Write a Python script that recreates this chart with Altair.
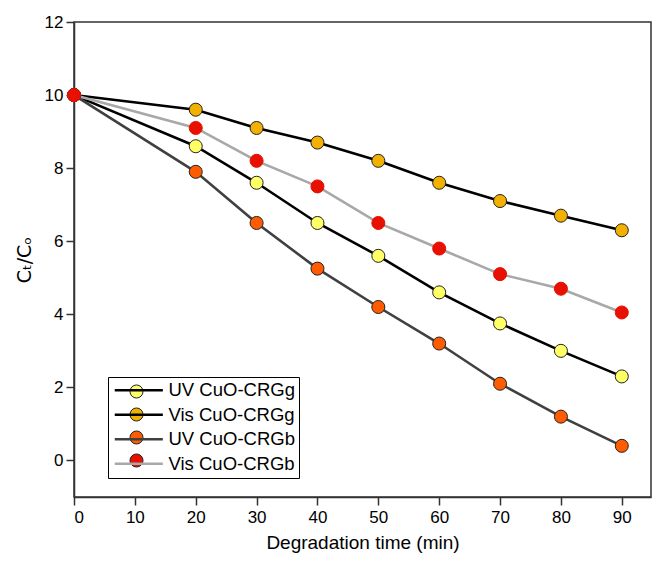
import altair as alt
import pandas as pd

times = [0, 20, 30, 40, 50, 60, 70, 80, 90]
series_names = ["UV CuO-CRGg", "Vis CuO-CRGg", "UV CuO-CRGb", "Vis CuO-CRGb"]
uv_g = [10, 8.6, 7.6, 6.5, 5.6, 4.6, 3.75, 3.0, 2.3]
vis_g = [10, 9.6, 9.1, 8.7, 8.2, 7.6, 7.1, 6.7, 6.3]
uv_b = [10, 7.9, 6.5, 5.25, 4.2, 3.2, 2.1, 1.2, 0.4]
vis_b = [10, 9.1, 8.2, 7.5, 6.5, 5.8, 5.1, 4.7, 4.05]

fill_colors = ["#FFFF66", "#F2B100", "#FF5C00", "#E81000"]
line_colors = ["#000000", "#000000", "#404040", "#A8A8A8"]

rows = []
for name, vals in zip(series_names, [uv_g, vis_g, uv_b, vis_b]):
    for t, v in zip(times, vals):
        rows.append({"time": t, "value": v, "series": name})
df = pd.DataFrame(rows)

FONT = "Liberation Sans"

x_enc = alt.X(
    "time:Q",
    scale=alt.Scale(domain=[0, 94.8], nice=False, zero=False),
    axis=alt.Axis(
        title="Degradation time (min)",
        values=list(range(0, 95, 5)),
        labelExpr="datum.value % 10 === 0 ? datum.label : ''",
        tickSize={"condition": {"test": "datum.value % 10 === 0", "value": 8}, "value": 5},
        grid=False,
        labelFontSize=17,
        titleFontSize=19,
        titlePadding=8,
        labelPadding=4,
    ),
)
y_enc = alt.Y(
    "value:Q",
    scale=alt.Scale(domain=[-1, 12], nice=False, zero=False),
    axis=alt.Axis(
        title="Cₜ/Cₒ",
        titleFont="DejaVu Sans",
        values=list(range(0, 13)),
        labelExpr="datum.value % 2 === 0 ? datum.label : ''",
        tickSize={"condition": {"test": "datum.value % 2 === 0", "value": 8}, "value": 5},
        grid=False,
        labelFontSize=17,
        titleFontSize=19,
        titlePadding=10,
        labelPadding=3,
    ),
)

# line symbol: path running from the symbol's left edge to the right (offset path)
LINE_PATH = "M-1,0H6.4"

lines = alt.Chart(df).mark_line(strokeWidth=2.6).encode(
    x=x_enc,
    y=y_enc,
    stroke=alt.Stroke(
        "series:N",
        scale=alt.Scale(domain=series_names, range=line_colors),
        legend=alt.Legend(
            title=None,
            orient="none",
            legendX=34,
            legendY=355,
            symbolType=LINE_PATH,
            symbolSize=169,
            symbolStrokeWidth=2.6,
            symbolFillColor="transparent",
            labelFontSize=18.5,
            labelFont=FONT,
            labelOffset=38,
            rowPadding=5.5,
            padding=4,
            strokeColor="#000000",
            labelLimit=300,
        ),
    ),
    detail="series:N",
)

points = alt.Chart(df).mark_point(filled=True, size=170, shape="circle", opacity=1, strokeWidth=1).encode(
    x="time:Q",
    y="value:Q",
    fill=alt.Fill(
        "series:N",
        scale=alt.Scale(domain=series_names, range=fill_colors),
        legend=alt.Legend(
            title=None,
            orient="none",
            legendX=55,
            legendY=362,
            symbolType="circle",
            symbolSize=170,
            symbolStrokeColor="#222222",
            symbolStrokeWidth=1,
            symbolOpacity=1,
            labelExpr="''",
            labelFontSize=1,
            labelOffset=0,
            rowPadding=4,
            padding=0,
        ),
    ),
    stroke=alt.condition(
        alt.datum.series == "Vis CuO-CRGb", alt.value("#E81000"), alt.value("#222222")
    ),
)

chart = (
    alt.layer(lines, points)
    .resolve_scale(stroke="independent")
    .properties(
        width=577,
        height=475,
        autosize=alt.AutoSizeParams(type="none"),
        padding={"left": 74, "top": 22, "right": 1, "bottom": 64},
    )
    .configure(font=FONT)
    .configure_view(stroke="#333333", strokeWidth=1.5)
    .configure_axis(
        domainColor="#333333",
        domainWidth=1.5,
        tickColor="#333333",
        tickWidth=1.5,
        labelColor="#000000",
        titleColor="#000000",
        labelFont=FONT,
        titleFont=FONT,
        titleFontWeight="normal",
    )
)

chart.save("out.html", embed_options={"renderer": "svg", "actions": False})
